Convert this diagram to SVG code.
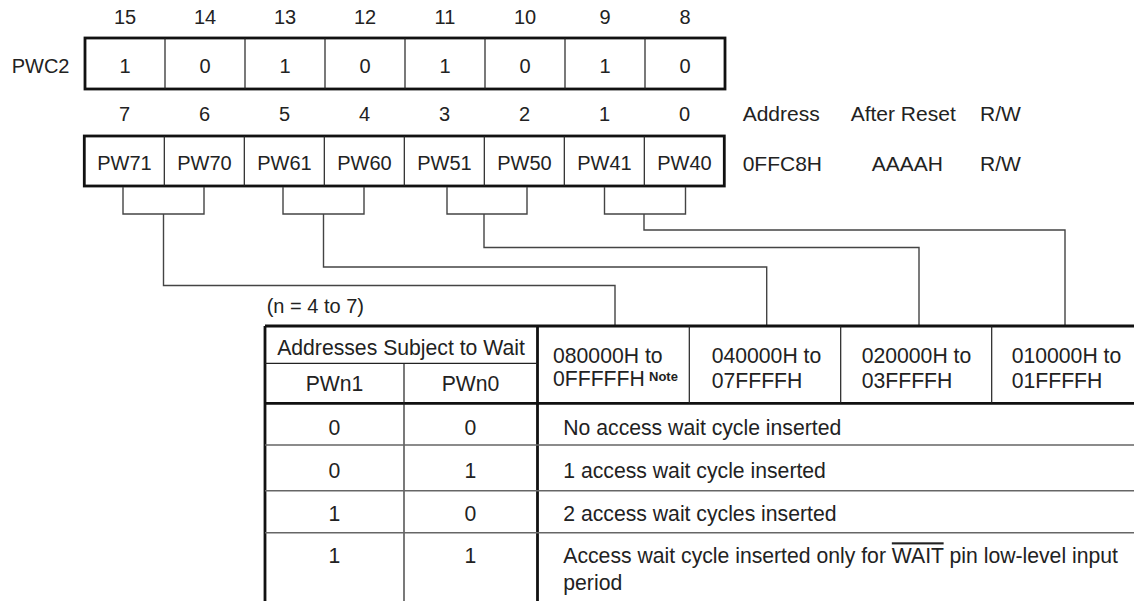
<svg xmlns="http://www.w3.org/2000/svg" width="1134" height="601" viewBox="0 0 1134 601">
<style>
text{font-family:"Liberation Sans",Arial,sans-serif;fill:#222;}
.r{font-size:20px;text-anchor:middle;}
.a{font-size:21px;}
.t{font-size:21.2px;}
.tc{font-size:21.2px;text-anchor:middle;}
.note{font-size:13px;font-weight:bold;}
.thick{fill:none;stroke:#111;stroke-width:2.8;}
.thin{fill:none;stroke:#222;stroke-width:1.2;}
.conn{fill:none;stroke:#444;stroke-width:1.4;}
.row{fill:none;stroke:#666;stroke-width:1.6;}
</style>
<g id="bitnums-high">
<text class="r" x="125" y="24">15</text><text class="r" x="205" y="24">14</text><text class="r" x="285" y="24">13</text><text class="r" x="365" y="24">12</text>
<text class="r" x="445" y="24">11</text><text class="r" x="525" y="24">10</text><text class="r" x="605" y="24">9</text><text class="r" x="685" y="24">8</text>
</g>
<g id="pwc2-high">
<text class="r" x="69.5" y="72.7" style="text-anchor:end">PWC2</text>
<rect class="thick" x="85" y="38" width="640" height="51"/>
<path class="thin" d="M165 38V89M245 38V89M325 38V89M405 38V89M485 38V89M565 38V89M645 38V89"/>
<text class="r" x="125" y="72.7">1</text><text class="r" x="205" y="72.7">0</text><text class="r" x="285" y="72.7">1</text><text class="r" x="365" y="72.7">0</text>
<text class="r" x="445" y="72.7">1</text><text class="r" x="525" y="72.7">0</text><text class="r" x="605" y="72.7">1</text><text class="r" x="685" y="72.7">0</text>
</g>
<g id="bitnums-low">
<text class="r" x="124.5" y="120.7">7</text><text class="r" x="204.5" y="120.7">6</text><text class="r" x="284.5" y="120.7">5</text><text class="r" x="364.5" y="120.7">4</text>
<text class="r" x="444.5" y="120.7">3</text><text class="r" x="524.5" y="120.7">2</text><text class="r" x="604.5" y="120.7">1</text><text class="r" x="684.5" y="120.7">0</text>
</g>
<g id="pwc2-low">
<rect class="thick" x="84.3" y="136" width="640" height="50"/>
<path class="thin" d="M164.3 136V186M244.3 136V186M324.3 136V186M404.3 136V186M484.3 136V186M564.3 136V186M644.3 136V186"/>
<text class="r" x="124.5" y="170">PW71</text><text class="r" x="204.5" y="170">PW70</text><text class="r" x="284.5" y="170">PW61</text><text class="r" x="364.5" y="170">PW60</text>
<text class="r" x="444.5" y="170">PW51</text><text class="r" x="524.5" y="170">PW50</text><text class="r" x="604.5" y="170">PW41</text><text class="r" x="684.5" y="170">PW40</text>
</g>
<g id="attributes">
<text class="a" x="742.7" y="120.5">Address</text>
<text class="a" x="850.7" y="120.5">After Reset</text>
<text class="a" x="980" y="120.5">R/W</text>
<text class="a" x="742.7" y="170.5">0FFC8H</text>
<text class="a" x="871.7" y="170.5">AAAAH</text>
<text class="a" x="980" y="170.5">R/W</text>
</g>
<g id="connectors">
<path class="conn" d="M123 187V214H204V187M283 187V214H364V187M447 187V214H527V187M604.5 187V214H685.5V187"/>
<path class="conn" d="M163.5 214V285.5H615V326"/>
<path class="conn" d="M323.5 214V267H766.7V326"/>
<path class="conn" d="M484 214V247.5H919V326"/>
<path class="conn" d="M644 214V230H1065V326"/>
</g>
<g id="table">
<text x="266.7" y="313" style="font-size:20px">(n = 4 to 7)</text>
<path class="thick" d="M265 326H1134M265 326V601M537.5 326V601M265 403.3H1134"/>
<path class="thin" d="M265 363.3H537.5M404 363.3V601M689.3 326V403.3M840.7 326V403.3M991.7 326V403.3"/>
<path class="row" d="M265 445H1134M265 490.7H1134M265 532.7H1134"/>
<text class="tc" x="401" y="355">Addresses Subject to Wait</text>
<text class="tc" x="334.5" y="391">PWn1</text>
<text class="tc" x="470.5" y="391">PWn0</text>
<text class="t" x="553" y="363.3">080000H to</text>
<text class="t" x="553" y="386">0FFFFFH</text>
<text class="note" x="649" y="380.5">Note</text>
<text class="t" x="711.7" y="362.5">040000H to</text>
<text class="t" x="711.7" y="387.5">07FFFFH</text>
<text class="t" x="861.7" y="362.5">020000H to</text>
<text class="t" x="861.7" y="387.5">03FFFFH</text>
<text class="t" x="1011.7" y="362.5">010000H to</text>
<text class="t" x="1011.7" y="387.5">01FFFFH</text>
<text class="tc" x="334.5" y="435">0</text><text class="tc" x="470.5" y="435">0</text>
<text class="t" x="563.3" y="435">No access wait cycle inserted</text>
<text class="tc" x="334.5" y="478.3">0</text><text class="tc" x="470.5" y="478.3">1</text>
<text class="t" x="563.3" y="478.3">1 access wait cycle inserted</text>
<text class="tc" x="334.5" y="520.7">1</text><text class="tc" x="470.5" y="520.7">0</text>
<text class="t" x="563.3" y="520.7">2 access wait cycles inserted</text>
<text class="tc" x="334.5" y="563.3">1</text><text class="tc" x="470.5" y="563.3">1</text>
<text class="t" x="563.3" y="563.3">Access wait cycle inserted only for <tspan text-decoration="overline">WAIT</tspan> pin low-level input</text>
<text class="t" x="563.3" y="589.5">period</text>
</g>
</svg>
